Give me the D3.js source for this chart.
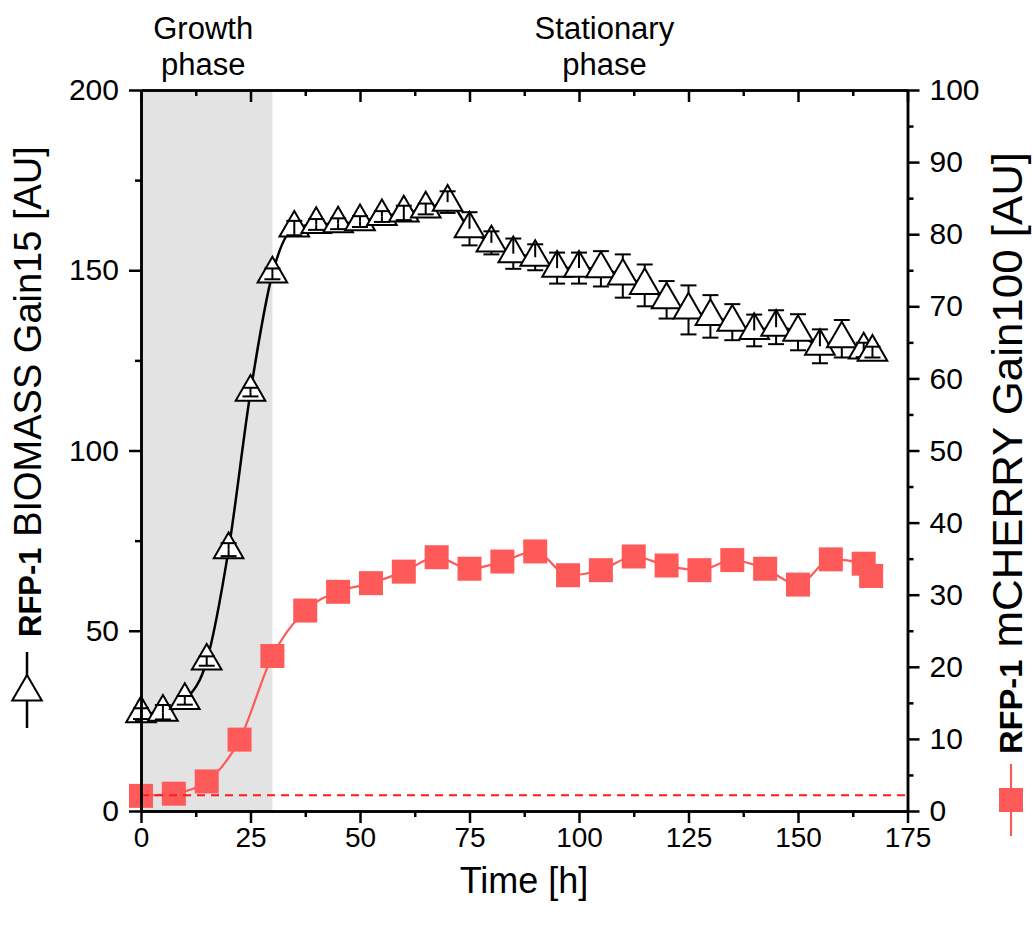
<!DOCTYPE html>
<html>
<head>
<meta charset="utf-8">
<script src="https://cdn.jsdelivr.net/npm/d3@7"></script>
<style>
  body { margin: 0; background: #fff; }
  text { font-family: "Liberation Sans", Arial, sans-serif; fill: #000; }
</style>
</head>
<body>
<div id="chart"></div>
<script>
// biomass (left axis), triangles every 5 h
var bioTime = [0, 5, 10, 15, 20, 25, 30, 35, 40, 45, 50, 55, 60, 65, 70, 75, 80, 85, 90, 95,
    100, 105, 110, 115, 120, 125, 130, 135, 140, 145, 150, 155, 160, 165, 167];
var bioValue = [27.0, 27.4, 30.7, 41.6, 72.5, 116.2, 149.0, 161.7, 162.7, 162.9, 163.5, 164.9, 165.9, 167.0, 168.9,
    161.5, 157.6, 154.6, 153.6, 150.6, 150.6, 150.4, 148.4, 145.8, 141.8, 139.0, 137.2, 135.6, 133.3, 134.2,
    132.8, 128.9, 131.0, 127.9, 127.3];
var bioErr = [1.5, 2, 1.2, 1.3, 1.8, 1.2, 1.5, 2, 1.5, 1.5, 1.5, 1.5, 2, 1.5, 3,
    4.6, 3.2, 4.2, 3.6, 4.3, 4.3, 4.9, 6.0, 5.8, 5.2, 6.8, 5.9, 5.0, 4.4, 4.7,
    5.0, 4.7, 5.2, 2, 1.5];

// mCherry (right axis), squares every 7.5 h
var cherryTime = [0, 7.5, 15, 22.5, 30, 37.5, 45, 52.5, 60, 67.5, 75, 82.5, 90, 97.5, 105, 112.5,
    120, 127.5, 135, 142.5, 150, 157.5, 165, 166.7];
var cherryValue = [2.1, 2.4, 4.1, 9.9, 21.5, 27.8, 30.4, 31.6, 33.2, 35.2, 33.6, 34.6, 36.0, 32.7, 33.4, 35.3,
    34.05, 33.4, 34.8, 33.6, 31.4, 34.9, 34.3, 32.6];

var xTicks = [0, 25, 50, 75, 100, 125, 150, 175];
var xMinor = [12.5, 37.5, 62.5, 87.5, 112.5, 137.5, 162.5];
var leftTicks = [0, 50, 100, 150, 200];
var leftMinor = [25, 75, 125, 175];
var rightTicks = [0, 10, 20, 30, 40, 50, 60, 70, 80, 90, 100];
var rightMinor = [5, 15, 25, 35, 45, 55, 65, 75, 85, 95];

var growthEnd = 30;       // end of grey growth band [h]
var cherryBaseline = 2.2; // dashed background level, right axis units
var phaseNames = [["Growth", "phase"], ["Stationary", "phase"]];
var phaseAt = [14.2, 105.8];

var width = 1033, height = 927;
var red = "#ff5a5a";

var svg = d3.select("#chart")
    .append("svg")
    .attr("width", width)
    .attr("height", height);

var x = d3.scaleLinear().domain([0, 175]).range([141, 907.5]);
var yL = d3.scaleLinear().domain([0, 200]).range([811, 90]);
var yR = d3.scaleLinear().domain([0, 100]).range([811, 90]);

// grey band for growth phase
svg.append("rect")
    .attr("x", x(0))
    .attr("y", yL(200))
    .attr("width", x(growthEnd) - x(0))
    .attr("height", yL(0) - yL(200))
    .attr("fill", "#e3e3e3");

// phase labels
phaseNames.forEach(function(lines, i) {
    var t = svg.append("text")
        .attr("text-anchor", "middle")
        .attr("font-size", 31)
        .attr("x", x(phaseAt[i]))
        .attr("y", 39);
    lines.forEach(function(s, j) {
        t.append("tspan").attr("x", x(phaseAt[i])).attr("dy", j ? 36 : 0).text(s);
    });
});

// mCherry line + squares
var cherryData = cherryTime.map(function(t, i) { return {t: t, v: cherryValue[i]}; });
svg.append("path")
    .datum(cherryData)
    .attr("fill", "none")
    .attr("stroke", red)
    .attr("stroke-width", 2.2)
    .attr("d", d3.line()
        .x(function(d) { return x(d.t); })
        .y(function(d) { return yR(d.v); })
        .curve(d3.curveMonotoneX));

svg.append("g")
    .selectAll("rect")
    .data(cherryData)
    .enter()
    .append("rect")
    .attr("x", function(d) { return x(d.t) - 12; })
    .attr("y", function(d) { return yR(d.v) - 12; })
    .attr("width", 24)
    .attr("height", 24)
    .attr("fill", red);

// dashed baseline
svg.append("line")
    .attr("x1", x(0))
    .attr("x2", x(175))
    .attr("y1", yR(cherryBaseline))
    .attr("y2", yR(cherryBaseline))
    .attr("stroke", "#ff1a1a")
    .attr("stroke-width", 2)
    .attr("stroke-dasharray", "8,6");

// biomass line, triangles, error bars
var bioData = bioTime.map(function(t, i) { return {t: t, v: bioValue[i], e: bioErr[i]}; });
svg.append("path")
    .datum(bioData)
    .attr("fill", "none")
    .attr("stroke", "#000")
    .attr("stroke-width", 2.5)
    .attr("d", d3.line()
        .x(function(d) { return x(d.t); })
        .y(function(d) { return yL(d.v); })
        .curve(d3.curveMonotoneX));

var triSize = 380;
var triR = Math.sqrt(triSize / (Math.sqrt(3) * 3)); // centroid to base
var tri = d3.symbol().type(d3.symbolTriangle).size(triSize);

var pts = svg.append("g");
bioData.forEach(function(d) {
    var cx = x(d.t), cy = yL(d.v);
    pts.append("path")
        .attr("d", tri)
        .attr("transform", "translate(" + cx + "," + cy + ")")
        .attr("fill", "#fff")
        .attr("stroke", "#000")
        .attr("stroke-width", 2);

    var up = yL(d.v + d.e), dn = yL(d.v - d.e);
    var apex = cy - 2 * triR, base = cy + triR;
    var g = pts.append("g").attr("stroke", "#000").attr("stroke-width", 2);
    g.append("line").attr("x1", cx).attr("x2", cx)
        .attr("y1", up < apex ? apex : cy).attr("y2", up);
    g.append("line").attr("x1", cx).attr("x2", cx)
        .attr("y1", dn > base ? base : cy).attr("y2", dn);
    g.append("line").attr("x1", cx - 8).attr("x2", cx + 8).attr("y1", up).attr("y2", up);
    g.append("line").attr("x1", cx - 8).attr("x2", cx + 8).attr("y1", dn).attr("y2", dn);
});

// axes
function styleAxis(size) {
    return function(g) {
        g.selectAll("path.domain").attr("stroke", "#000").attr("stroke-width", 2.5);
        g.selectAll(".tick line").attr("stroke", "#000").attr("stroke-width", 2.5);
        g.selectAll("text").attr("font-size", size).attr("font-family", "Liberation Sans, Arial, sans-serif");
    };
}

svg.append("g").attr("transform", "translate(0,811)")
    .call(d3.axisBottom(x).tickValues(xMinor).tickSize(6).tickSizeOuter(0).tickFormat(""))
    .call(styleAxis(28));
svg.append("g").attr("transform", "translate(0,811)")
    .call(d3.axisBottom(x).tickValues(xTicks).tickSize(12).tickPadding(4).tickSizeOuter(0))
    .call(styleAxis(28));

svg.append("g").attr("transform", "translate(0,90)")
    .call(d3.axisBottom(x).tickValues(xMinor).tickSize(6).tickSizeOuter(0).tickFormat(""))
    .call(styleAxis(28));
svg.append("g").attr("transform", "translate(0,90)")
    .call(d3.axisBottom(x).tickValues(xTicks).tickSize(12).tickSizeOuter(0).tickFormat(""))
    .call(styleAxis(28));

svg.append("g").attr("transform", "translate(141,0)")
    .call(d3.axisLeft(yL).tickValues(leftMinor).tickSize(6).tickSizeOuter(0).tickFormat(""))
    .call(styleAxis(30));
svg.append("g").attr("transform", "translate(141,0)")
    .call(d3.axisLeft(yL).tickValues(leftTicks).tickSize(12).tickPadding(10).tickSizeOuter(0))
    .call(styleAxis(30));

svg.append("g").attr("transform", "translate(907.5,0)")
    .call(d3.axisRight(yR).tickValues(rightMinor).tickSize(6).tickSizeOuter(0).tickFormat(""))
    .call(styleAxis(30));
svg.append("g").attr("transform", "translate(907.5,0)")
    .call(d3.axisRight(yR).tickValues(rightTicks).tickSize(12).tickPadding(10).tickSizeOuter(0))
    .call(styleAxis(30));

// axis titles
svg.append("text")
    .attr("x", 524)
    .attr("y", 893)
    .attr("text-anchor", "middle")
    .attr("font-size", 36)
    .text("Time [h]");

var lt = svg.append("text")
    .attr("transform", "translate(41,637) rotate(-90)")
    .attr("font-size", 38);
lt.append("tspan").attr("font-weight", "bold").attr("font-size", 31).text("RFP-1");
lt.append("tspan").text(" BIOMASS Gain15 [AU]");

var rt = svg.append("text")
    .attr("transform", "translate(1022,754) rotate(-90)")
    .attr("font-size", 43)
    .attr("textLength", 602)
    .attr("lengthAdjust", "spacingAndGlyphs");
rt.append("tspan").attr("font-weight", "bold").attr("font-size", 32).text("RFP-1");
rt.append("tspan").text(" mCHERRY Gain100 [AU]");

// legend keys next to the titles
svg.append("line").attr("x1", 27).attr("x2", 27).attr("y1", 652).attr("y2", 728)
    .attr("stroke", "#000").attr("stroke-width", 2.5);
svg.append("path").attr("d", tri).attr("transform", "translate(27,692)")
    .attr("fill", "#fff").attr("stroke", "#000").attr("stroke-width", 2);

svg.append("line").attr("x1", 1011).attr("x2", 1011).attr("y1", 764).attr("y2", 836)
    .attr("stroke", red).attr("stroke-width", 2.2);
svg.append("rect").attr("x", 999).attr("y", 788).attr("width", 24).attr("height", 24)
    .attr("fill", red);
</script>
</body>
</html>
